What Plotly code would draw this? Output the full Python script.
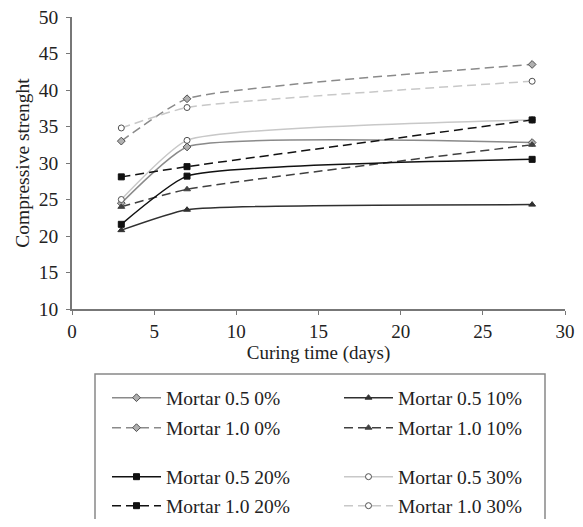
import plotly.graph_objects as go

days = [3, 7, 28]
m05_0 = [24.5, 32.2, 32.8]
m05_10 = [20.8, 23.6, 24.3]
m10_0 = [33.0, 38.8, 43.5]
m10_10 = [24.0, 26.4, 32.5]
m05_20 = [21.6, 28.2, 30.5]
m05_30 = [25.0, 33.1, 35.9]
m10_20 = [28.1, 29.5, 35.9]
m10_30 = [34.8, 37.6, 41.2]

series = [
    ("Mortar 0.5 0%", m05_0, "#8a8a8a", "solid", "diamond", "#b0b0b0", "legend"),
    ("Mortar 0.5 10%", m05_10, "#303030", "solid", "triangle-up", "#303030", "legend"),
    ("Mortar 1.0 0%", m10_0, "#8a8a8a", "9px,5px", "diamond", "#b0b0b0", "legend2"),
    ("Mortar 1.0 10%", m10_10, "#404040", "9px,5px", "triangle-up", "#404040", "legend2"),
    ("Mortar 0.5 20%", m05_20, "#111111", "solid", "square", "#111111", "legend3"),
    ("Mortar 0.5 30%", m05_30, "#c8c8c8", "solid", "circle", "#ffffff", "legend3"),
    ("Mortar 1.0 20%", m10_20, "#111111", "9px,5px", "square", "#111111", "legend4"),
    ("Mortar 1.0 30%", m10_30, "#c8c8c8", "9px,5px", "circle", "#ffffff", "legend4"),
]

fig = go.Figure()
for name, vals, color, dash, sym, fill, lg in series:
    fig.add_trace(go.Scatter(
        x=days, y=vals, name=name, mode="lines+markers",
        line=dict(color=color, width=1.5, dash=dash, shape="spline", smoothing=0.45),
        marker=dict(symbol=sym, size=6, color=fill,
                    line=dict(color="#505050" if sym in ("diamond", "circle") else color, width=1)),
        legend=lg,
    ))

# the page body adds an 8px margin on every side; size the figure to fit the window
OFF = 8
W, H = 583 - 2 * OFF, 527 - 2 * OFF
L, R, T, B = 72 - OFF, 10, 17 - OFF, 218 - OFF
pw = W - L - R
ph = H - T - B

def px(x):
    return (x - OFF - L) / pw

def py(y):
    return (H - B - (y - OFF)) / ph

FAM = "Liberation Serif"
font = dict(family=FAM, size=19, color="#222222")
legfont = dict(family=FAM, size=19.5, color="#222222")
rows = [398, 428, 477, 506]
leg = {}
for i, key in enumerate(["legend", "legend2", "legend3", "legend4"]):
    leg[key] = dict(
        orientation="h", x=px(107), y=py(rows[i]), xanchor="left", yanchor="middle",
        xref="paper", yref="paper", entrywidth=168, entrywidthmode="pixels",
        font=legfont, bgcolor="rgba(0,0,0,0)", borderwidth=0, itemwidth=49,
        tracegroupgap=0,
    )

fig.update_layout(
    width=W, height=H,
    margin=dict(l=L, r=R, t=T, b=B, autoexpand=False),
    plot_bgcolor="white", paper_bgcolor="white",
    font=font,
    showlegend=True,
    **leg,
    xaxis=dict(
        range=[0, 30], tickvals=[0, 5, 10, 15, 20, 25, 30], showgrid=False, zeroline=False,
        showline=True, linecolor="#777777", linewidth=1.5, ticks="outside", ticklen=4,
        tickcolor="#777777", title=dict(text="Curing time (days)", font=dict(size=19), standoff=2),
        tickfont=dict(size=19), ticklabeloverflow="allow",
    ),
    yaxis=dict(
        range=[10, 50], tickvals=[10, 15, 20, 25, 30, 35, 40, 45, 50], showgrid=False, zeroline=False,
        showline=True, linecolor="#777777", linewidth=1.5, ticks="outside", ticklen=4,
        tickcolor="#777777", title=dict(text="Compressive strenght", font=dict(size=19.5), standoff=4),
        tickfont=dict(size=19.5), ticklabelstandoff=4, ticklabeloverflow="allow",
    ),
    shapes=[
        dict(type="rect", xref="paper", yref="paper",
             x0=px(95), x1=px(545), y0=py(374), y1=py(540),
             line=dict(color="#888888", width=1.5), fillcolor="rgba(0,0,0,0)", layer="below"),
    ],
)

fig.write_html("out.html")
